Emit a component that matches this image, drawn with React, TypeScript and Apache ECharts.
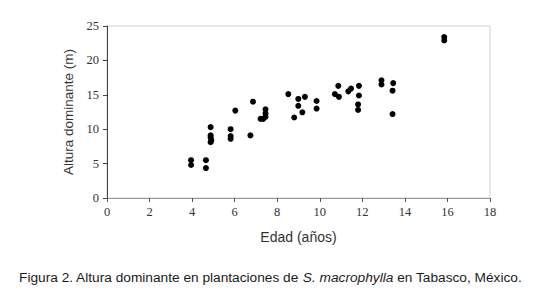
import React, { useEffect, useRef } from "react";
import * as echarts from "echarts";

const ages: number[] = [
  3.95, 3.95, 4.65, 4.65, 4.87, 4.87, 4.87, 4.9, 4.87, 5.81, 5.81, 5.81, 6.03, 6.74, 6.86,
  7.22, 7.34, 7.45, 7.45, 7.45, 8.52, 8.8, 8.99, 8.99, 9.18, 9.3, 9.85, 9.85, 10.71, 10.87,
  10.9, 11.34, 11.47, 11.84, 11.84, 11.8, 11.8, 12.9, 12.9, 13.45, 13.42, 13.42, 15.85, 15.85,
];
const heights: number[] = [
  5.5, 4.8, 5.5, 4.35, 10.3, 9.1, 8.8, 8.4, 8.1, 10.0, 9.0, 8.6, 12.7, 9.1, 14.0,
  11.5, 11.5, 12.9, 12.3, 11.8, 15.1, 11.7, 14.4, 13.4, 12.45, 14.7, 14.1, 13.0, 15.1, 16.3,
  14.7, 15.5, 15.9, 16.3, 14.9, 13.6, 12.8, 17.1, 16.5, 16.7, 15.6, 12.2, 23.4, 22.9,
];
const xTitle = "Edad (años)";
const yTitle = "Altura dominante (m)";
const captionStart = "Figura 2. Altura dominante en plantaciones de ";
const captionItalic = "S. macrophylla";
const captionEnd = " en Tabasco, México.";

export default function App() {
  const ref = useRef<HTMLDivElement>(null);
  useEffect(() => {
    if (!ref.current) return;
    const chart = echarts.init(ref.current, null, { renderer: "svg" });
    const data = ages.map((a, i) => [a, heights[i]]);
    chart.setOption({
      animation: false,
      backgroundColor: "#ffffff",
      grid: {
        left: 107,
        right: 51,
        top: 26,
        bottom: 107,
        show: true,
        borderColor: "#d0d0d0",
        borderWidth: 1,
      },
      xAxis: {
        type: "value",
        min: 0,
        max: 18,
        interval: 2,
        name: xTitle,
        nameLocation: "middle",
        nameGap: 32,
        nameTextStyle: { fontFamily: "Liberation Sans", fontSize: 14, color: "#333" },
        axisLine: { show: true, lineStyle: { color: "#999", width: 1 } },
        axisTick: { show: true, length: 4, lineStyle: { color: "#555" } },
        axisLabel: { fontFamily: "Liberation Serif", fontSize: 12.5, color: "#333", margin: 7 },
        splitLine: { show: false },
      },
      yAxis: {
        type: "value",
        min: 0,
        max: 25,
        interval: 5,
        name: yTitle,
        nameLocation: "middle",
        nameGap: 29,
        nameTextStyle: { fontFamily: "Liberation Sans", fontSize: 13.5, color: "#333" },
        axisLine: { show: true, lineStyle: { color: "#444", width: 1 } },
        axisTick: { show: true, length: 4, lineStyle: { color: "#444" } },
        axisLabel: { fontFamily: "Liberation Serif", fontSize: 12.5, color: "#333", margin: 8 },
        splitLine: { show: false },
      },
      series: [
        {
          type: "scatter",
          data,
          symbol: "circle",
          symbolSize: 6,
          itemStyle: { color: "#000", opacity: 1 },
        },
      ],
      graphic: [
        {
          type: "text",
          left: "center",
          top: 270,
          style: {
            text: `{n|${captionStart}}{i|${captionItalic}}{n|${captionEnd}}`,
            rich: {
              n: { fontFamily: "Liberation Sans", fontSize: 13.7, fill: "#1a1a1a" },
              i: { fontFamily: "Liberation Sans", fontSize: 13.7, fontStyle: "italic", fill: "#1a1a1a" },
            },
          },
        },
      ],
    });
    return () => chart.dispose();
  }, []);
  return (
    <div
      ref={ref}
      style={{ position: "fixed", left: 0, top: 0, width: 541, height: 305, background: "#fff" }}
    />
  );
}
